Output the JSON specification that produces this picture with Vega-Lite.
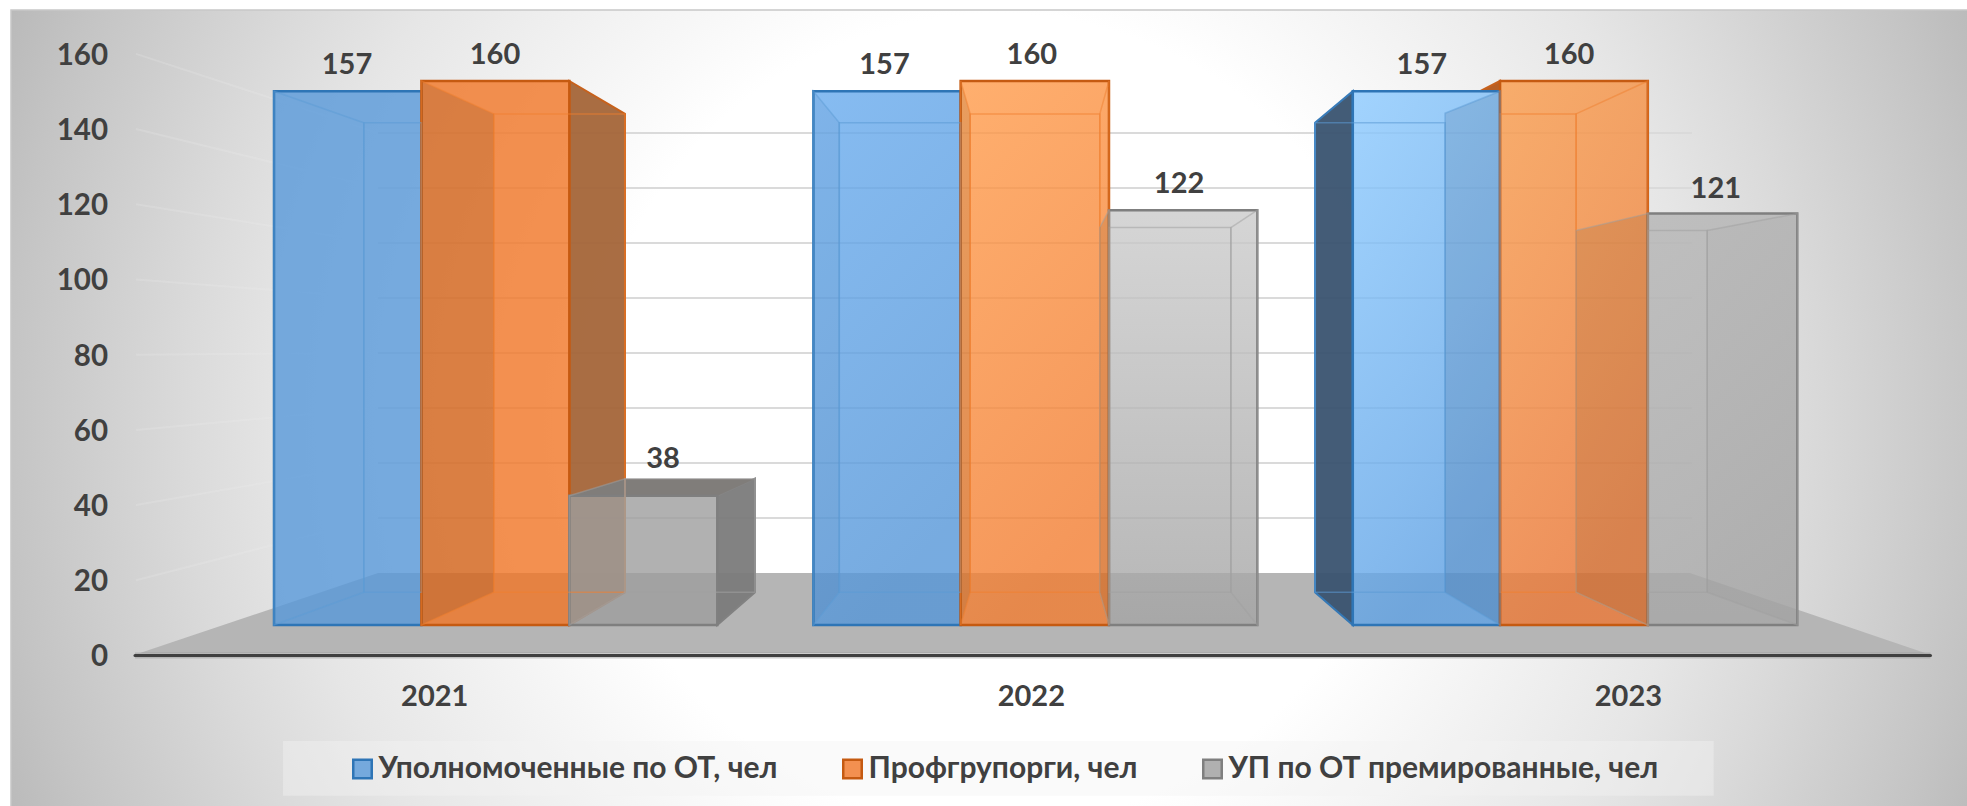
{"$schema":"https://vega.github.io/schema/vega-lite/v6.json","width":1967,"height":806,"padding":0,"autosize":{"type":"none"},"background":"white","config":{"view":{"stroke":null},"text":{"font":"Lato"}},
"datasets":{
"bars":[
{"year":"2021","bar":"2021a","series":"Уполномоченные по ОТ, чел","value":157,"x0":0,"x1":27.33,"bx0":16.65,"bx1":27.33,"labelX":13.53,"labelAt":157},
{"year":"2021","bar":"2021b","series":"Профгрупорги, чел","value":160,"x0":27.33,"x1":54.76,"bx0":40.75,"bx1":65.07,"labelX":40.97,"labelAt":160},
{"year":"2021","bar":"2021c","series":"УП по ОТ премированные, чел","value":38,"x0":54.76,"x1":82.18,"bx0":65.07,"bx1":89.17,"labelX":72.12,"labelAt":41.3},
{"year":"2022","bar":"2022a","series":"Уполномоченные по ОТ, чел","value":157,"x0":100,"x1":127.3,"bx0":104.8,"bx1":127.3,"labelX":113.18,"labelAt":157},
{"year":"2022","bar":"2022b","series":"Профгрупорги, чел","value":160,"x0":127.3,"x1":154.8,"bx0":129.07,"bx1":153.1,"labelX":140.5,"labelAt":160},
{"year":"2022","bar":"2022c","series":"УП по ОТ премированные, чел","value":122,"x0":154.8,"x1":182.3,"bx0":154.8,"bx1":177.4,"labelX":167.8,"labelAt":122},
{"year":"2023","bar":"2023a","series":"Уполномоченные по ОТ, чел","value":157,"x0":200,"x1":227.3,"bx0":193,"bx1":217.1,"labelX":212.8,"labelAt":157},
{"year":"2023","bar":"2023b","series":"Профгрупорги, чел","value":160,"x0":227.3,"x1":254.7,"bx0":227.3,"bx1":241.4,"labelX":240.1,"labelAt":160},
{"year":"2023","bar":"2023c","series":"УП по ОТ премированные, чел","value":121,"x0":254.7,"x1":282.4,"bx0":254.7,"bx1":265.7,"labelX":267.3,"labelAt":120.6}
],
"sides":[
{"face":"2021a left","part":"inner","series":"Уполномоченные по ОТ, чел","x":0,"top":157,"bot":0},{"face":"2021a left","part":"inner","series":"Уполномоченные по ОТ, чел","x":16.65,"top":147.69,"bot":9.62},
{"face":"2021b left","part":"inner","series":"Профгрупорги, чел","x":27.33,"top":160,"bot":0},{"face":"2021b left","part":"inner","series":"Профгрупорги, чел","x":40.75,"top":150.33,"bot":9.62},
{"face":"2021b right","part":"outer","series":"Профгрупорги, чел","x":54.76,"top":160,"bot":0},{"face":"2021b right","part":"outer","series":"Профгрупорги, чел","x":65.07,"top":150.33,"bot":9.62},
{"face":"2021c left","part":"inner","series":"УП по ОТ премированные, чел","x":54.76,"top":38,"bot":0},{"face":"2021c left","part":"inner","series":"УП по ОТ премированные, чел","x":65.07,"top":43.04,"bot":9.62},
{"face":"2021c right","part":"outer","series":"УП по ОТ премированные, чел","x":82.18,"top":38,"bot":0},{"face":"2021c right","part":"outer","series":"УП по ОТ премированные, чел","x":89.17,"top":43.04,"bot":9.62},
{"face":"2022a left","part":"inner","series":"Уполномоченные по ОТ, чел","x":100,"top":157,"bot":0},{"face":"2022a left","part":"inner","series":"Уполномоченные по ОТ, чел","x":104.8,"top":147.69,"bot":9.62},
{"face":"2022b left","part":"inner","series":"Профгрупорги, чел","x":127.3,"top":160,"bot":0},{"face":"2022b left","part":"inner","series":"Профгрупорги, чел","x":129.07,"top":150.33,"bot":9.62},
{"face":"2022b right","part":"inner","series":"Профгрупорги, чел","x":153.1,"top":150.33,"bot":9.62},{"face":"2022b right","part":"inner","series":"Профгрупорги, чел","x":154.8,"top":160,"bot":0},
{"face":"2022c left","part":"inner","series":"УП по ОТ премированные, чел","x":153.1,"top":116.91,"bot":9.62},{"face":"2022c left","part":"inner","series":"УП по ОТ премированные, чел","x":154.8,"top":122,"bot":0},
{"face":"2022c right","part":"inner","series":"УП по ОТ премированные, чел","x":177.4,"top":116.91,"bot":9.62},{"face":"2022c right","part":"inner","series":"УП по ОТ премированные, чел","x":182.3,"top":122,"bot":0},
{"face":"2023a left","part":"outer","series":"Уполномоченные по ОТ, чел","x":193,"top":147.69,"bot":9.62},{"face":"2023a left","part":"outer","series":"Уполномоченные по ОТ, чел","x":200,"top":157,"bot":0},
{"face":"2023a right","part":"inner","series":"Уполномоченные по ОТ, чел","x":217.1,"top":150.5,"bot":9.62},{"face":"2023a right","part":"inner","series":"Уполномоченные по ОТ, чел","x":227.3,"top":157,"bot":0},
{"face":"2023b left","part":"outer","series":"Профгрупорги, чел","x":223.6,"top":157,"bot":157},{"face":"2023b left","part":"outer","series":"Профгрупорги, чел","x":227.3,"top":160,"bot":157},
{"face":"2023b right","part":"inner","series":"Профгрупорги, чел","x":241.4,"top":150.33,"bot":9.62},{"face":"2023b right","part":"inner","series":"Профгрупорги, чел","x":254.7,"top":160,"bot":0},
{"face":"2023c left","part":"inner","series":"УП по ОТ премированные, чел","x":241.4,"top":116.03,"bot":9.62},{"face":"2023c left","part":"inner","series":"УП по ОТ премированные, чел","x":254.7,"top":121,"bot":0},
{"face":"2023c right","part":"inner","series":"УП по ОТ премированные, чел","x":265.7,"top":116.03,"bot":9.62},{"face":"2023c right","part":"inner","series":"УП по ОТ премированные, чел","x":282.4,"top":121,"bot":0}
],
"ticks":[{"tick":20},{"tick":40},{"tick":60},{"tick":80},{"tick":100},{"tick":120},{"tick":140},{"tick":160}],
"wall":[
{"tick":20,"x":-25.58,"v":20},{"tick":20,"x":19.28,"v":36.57},
{"tick":40,"x":-25.58,"v":40},{"tick":40,"x":19.28,"v":51.2},
{"tick":60,"x":-25.58,"v":60},{"tick":60,"x":19.28,"v":65.8},
{"tick":80,"x":-25.58,"v":80},{"tick":80,"x":19.28,"v":80.45},
{"tick":100,"x":-25.58,"v":100},{"tick":100,"x":19.28,"v":95.08},
{"tick":120,"x":-25.58,"v":120},{"tick":120,"x":19.28,"v":109.7},
{"tick":140,"x":-25.58,"v":140},{"tick":140,"x":19.28,"v":124.3},
{"tick":160,"x":-25.58,"v":160},{"tick":160,"x":19.28,"v":138.96}
],
"years":[{"year":"2021","pos":29.8},{"year":"2022","pos":140.4},{"year":"2023","pos":251.1}]
},
"resolve":{"scale":{"y":"independent","fill":"independent","stroke":"independent"}},
"layer":[
{"data":{"values":[{"part":"background"}]},
"mark":{"type":"rect","stroke":"#c8c8c8","strokeWidth":1.5,"fill":{"gradient":"radial","x1":0.495,"y1":0.5,"r1":0,"x2":0.495,"y2":0.5,"r2":0.6,"stops":[{"offset":0,"color":"#ffffff"},{"offset":0.34,"color":"#ffffff"},{"offset":0.59,"color":"#e6e6e6"},{"offset":0.68,"color":"#dadada"},{"offset":0.83,"color":"#c4c4c4"},{"offset":1,"color":"#a8a8a8"}]}},
"encoding":{"x":{"datum":-48.76,"type":"quantitative","scale":{"domain":[-50.797,313.87]},"axis":null},"x2":{"datum":320},"y":{"datum":180.88,"type":"quantitative","scale":{"domain":[-53.235,183.824]},"axis":null},"y2":{"datum":-60}}},
{"data":{"values":[{"part":"legend band"}]},
"mark":{"type":"rect","fill":"#f2f2f2","opacity":0.42},
"encoding":{"x":{"datum":1.67,"type":"quantitative","scale":{"domain":[-50.797,313.87]},"axis":null},"x2":{"datum":266.9},"y":{"datum":-34.12,"type":"quantitative","scale":{"domain":[-53.235,183.824]},"axis":null},"y2":{"datum":-50.2}}},
{"data":{"name":"ticks"},
"mark":{"type":"rule","stroke":"#dadada","strokeWidth":2},
"encoding":{"x":{"datum":19.28,"type":"quantitative","scale":{"domain":[-50.797,313.87]},"axis":null},"x2":{"datum":262.9},"y":{"field":"tick","type":"quantitative","scale":{"domain":[-84.73,208.36]},"axis":null}}},
{"data":{"name":"wall"},
"mark":{"type":"line","stroke":"#f0f0f0","strokeWidth":2,"opacity":0.2},
"encoding":{"x":{"field":"x","type":"quantitative","scale":{"domain":[-50.797,313.87]},"axis":null},"y":{"field":"v","type":"quantitative","scale":{"domain":[-40.03,174.33]},"axis":null},"detail":{"field":"tick"}}},
{"data":{"values":[{"y":0.66,"xa":-24.84,"xb":306.1},{"y":21.94,"xa":19.28,"xb":262.5}]},
"mark":{"type":"area","orient":"horizontal","fill":"#b5b5b5"},
"encoding":{"y":{"field":"y","type":"quantitative","scale":{"domain":[-40.03,174.33]},"axis":null},"x":{"field":"xa","type":"quantitative","scale":{"domain":[-50.797,313.87]},"axis":null},"x2":{"field":"xb"}}},
{"data":{"values":[{"v":0}]},
"mark":{"type":"rule","stroke":"#909090","strokeWidth":6,"opacity":0.45},
"encoding":{"x":{"datum":-25.77,"type":"quantitative","scale":{"domain":[-50.797,313.87]},"axis":null},"x2":{"datum":307.1},"y":{"field":"v","type":"quantitative","scale":{"domain":[-40.03,174.33]},"axis":null}}},
{"data":{"values":[{"v":0}]},
"mark":{"type":"rule","stroke":"#404040","strokeWidth":3,"strokeCap":"round"},
"encoding":{"x":{"datum":-25.77,"type":"quantitative","scale":{"domain":[-50.797,313.87]},"axis":null},"x2":{"datum":307.1},"y":{"field":"v","type":"quantitative","scale":{"domain":[-40.03,174.33]},"axis":{"values":[0,20,40,60,80,100,120,140,160],"title":null,"domain":false,"ticks":false,"grid":false,"zindex":1,"labelPadding":-107.6,"labelOffset":1.5,"labelAlign":"right","labelBaseline":"middle","labelFont":"Lato","labelFontSize":29.5,"labelFontWeight":"bold","labelColor":"#404040"}}}},
{"data":{"name":"sides"},"transform":[{"filter":"datum.part==='outer'"}],
"mark":{"type":"area","orient":"vertical","strokeWidth":2,"opacity":0.95},
"encoding":{"x":{"field":"x","type":"quantitative","scale":{"domain":[-50.797,313.87]},"axis":null},"y":{"field":"top","type":"quantitative","scale":{"domain":[-53.235,183.824]},"axis":null},"y2":{"field":"bot"},"detail":{"field":"face"},
"fill":{"field":"face","type":"nominal","legend":null,"scale":{"domain":["2021b right","2021c right","2023a left","2023b left"],"range":["#a56639","#7c7c7c","#3a5470","#b5581a"]}},
"stroke":{"field":"series","type":"nominal","legend":null,"scale":{"domain":["Уполномоченные по ОТ, чел","Профгрупорги, чел","УП по ОТ премированные, чел"],"range":["#2e75b6","#c55a11","#7f7f7f"]}}}},
{"data":{"values":[{"y":38,"xa":54.76,"xb":82.18},{"y":43.04,"xa":65.07,"xb":89.17}]},
"mark":{"type":"area","orient":"horizontal","fill":"#807d7a"},
"encoding":{"y":{"field":"y","type":"quantitative","scale":{"domain":[-53.235,183.824]},"axis":null},"x":{"field":"xa","type":"quantitative","scale":{"domain":[-50.797,313.87]},"axis":null},"x2":{"field":"xb"}}},
{"data":{"name":"bars"},"transform":[{"filter":"datum.year==='2021'"}],
"mark":{"type":"rect","fillOpacity":0.8,"strokeWidth":2.5},
"encoding":{"x":{"field":"x0","type":"quantitative","scale":{"domain":[-50.797,313.87]},"axis":null},"x2":{"field":"x1"},"y":{"field":"value","type":"quantitative","scale":{"domain":[-53.235,183.824]},"axis":null},"y2":{"datum":0},
"fill":{"field":"series","type":"nominal","scale":{"domain":["Уполномоченные по ОТ, чел","Профгрупорги, чел","УП по ОТ премированные, чел"],"range":["#5899da","#f17526","#9d9d9d"]},"legend":{"orient":"none","legendX":347.5,"legendY":754,"direction":"horizontal","columns":3,"title":null,"symbolType":"square","symbolSize":342,"symbolStrokeWidth":2.5,"columnPadding":60,"labelFont":"Lato","labelFontSize":30,"labelFontWeight":"bold","labelColor":"#404040","labelOffset":1,"labelLimit":700,"padding":0,"encode":{"symbols":{"update":{"fillOpacity":{"value":0.8}}}}}},
"stroke":{"field":"series","type":"nominal","scale":{"domain":["Уполномоченные по ОТ, чел","Профгрупорги, чел","УП по ОТ премированные, чел"],"range":["#2e75b6","#c55a11","#7f7f7f"]},"legend":{"orient":"none","legendX":347.5,"legendY":754,"direction":"horizontal","columns":3,"title":null,"symbolType":"square","symbolSize":342,"symbolStrokeWidth":2.5,"columnPadding":60,"labelFont":"Lato","labelFontSize":30,"labelFontWeight":"bold","labelColor":"#404040","labelOffset":1,"labelLimit":700,"padding":0,"encode":{"symbols":{"update":{"fillOpacity":{"value":0.8}}}}}}}},
{"data":{"name":"bars"},"transform":[{"filter":"datum.year!=='2021'"}],
"mark":{"type":"rect","fillOpacity":0.8,"strokeWidth":2.5},
"encoding":{"x":{"field":"x0","type":"quantitative","scale":{"domain":[-50.797,313.87]},"axis":null},"x2":{"field":"x1"},"y":{"field":"value","type":"quantitative","scale":{"domain":[-53.235,183.824]},"axis":null},"y2":{"datum":0},
"fill":{"field":"bar","type":"nominal","legend":null,"scale":{"domain":["2022a","2022b","2022c","2023a","2023b","2023c"],"range":[
{"expr":"{gradient:'linear',x1:0,y1:0,x2:0.3,y2:1,stops:[{offset:0,color:'#68abee'},{offset:1,color:'#5596d8'}]}"},
{"expr":"{gradient:'linear',x1:0,y1:0,x2:0.3,y2:1,stops:[{offset:0,color:'#ff9b4a'},{offset:1,color:'#f27d31'}]}"},
{"expr":"{gradient:'linear',x1:0,y1:0,x2:0,y2:1,stops:[{offset:0,color:'#cbcbcb'},{offset:1,color:'#a4a4a4'}]}"},
{"expr":"{gradient:'linear',x1:0,y1:0,x2:0.3,y2:1,stops:[{offset:0,color:'#8ccaff'},{offset:1,color:'#5fa2e5'}]}"},
{"expr":"{gradient:'linear',x1:0,y1:0,x2:0.3,y2:1,stops:[{offset:0,color:'#fa9c4b'},{offset:1,color:'#ec7836'}]}"},
{"expr":"{gradient:'linear',x1:0,y1:0,x2:0,y2:1,stops:[{offset:0,color:'#b4b4b4'},{offset:1,color:'#a7a7a7'}]}"}
]}},
"stroke":{"field":"series","type":"nominal","legend":null,"scale":{"domain":["Уполномоченные по ОТ, чел","Профгрупорги, чел","УП по ОТ премированные, чел"],"range":["#2e75b6","#c55a11","#7f7f7f"]}}}},
{"data":{"name":"bars"},
"mark":{"type":"rect","fillOpacity":0,"strokeWidth":1.5,"strokeOpacity":0.55},
"encoding":{"x":{"field":"bx0","type":"quantitative","scale":{"domain":[-50.797,313.87]},"axis":null},"x2":{"field":"bx1"},"y":{"field":"value","type":"quantitative","scale":{"domain":[-71.47,198.09]},"axis":null},"y2":{"datum":0},
"stroke":{"field":"series","type":"nominal","legend":null,"scale":{"domain":["Уполномоченные по ОТ, чел","Профгрупорги, чел","УП по ОТ премированные, чел"],"range":["#5b9bd5","#f08030","#a0a0a0"]}}}},
{"data":{"name":"sides"},"transform":[{"filter":"datum.part==='inner'"}],
"mark":{"type":"area","orient":"vertical","strokeWidth":1.5,"strokeOpacity":0.5},
"encoding":{"x":{"field":"x","type":"quantitative","scale":{"domain":[-50.797,313.87]},"axis":null},"y":{"field":"top","type":"quantitative","scale":{"domain":[-53.235,183.824]},"axis":null},"y2":{"field":"bot"},"detail":{"field":"face"},
"fill":{"field":"face","type":"nominal","legend":null,"scale":{"domain":["2021a left","2021b left","2021c left","2022a left","2022b left","2022b right","2022c left","2022c right","2023a right","2023b right","2023c left","2023c right"],"range":["rgba(0,0,0,0)","rgba(110,58,16,0.18)","rgba(0,0,0,0)","rgba(40,80,130,0.07)","rgba(110,58,16,0.15)","rgba(0,0,0,0)","rgba(110,58,16,0.15)","rgba(0,0,0,0)","rgba(30,60,100,0.15)","rgba(0,0,0,0)","rgba(110,58,16,0.15)","rgba(0,0,0,0.02)"]}},
"stroke":{"field":"series","type":"nominal","legend":null,"scale":{"domain":["Уполномоченные по ОТ, чел","Профгрупорги, чел","УП по ОТ премированные, чел"],"range":["#5b9bd5","#f08030","#a0a0a0"]}}}},
{"data":{"name":"bars"},
"mark":{"type":"text","font":"Lato","fontSize":29,"fontWeight":"bold","fill":"#404040","dy":-26,"baseline":"middle","align":"center"},
"encoding":{"x":{"field":"labelX","type":"quantitative","scale":{"domain":[-50.797,313.87]},"axis":null},"y":{"field":"labelAt","type":"quantitative","scale":{"domain":[-53.235,183.824]},"axis":null},"text":{"field":"value","type":"quantitative"}}},
{"data":{"name":"years"},
"mark":{"type":"text","font":"Lato","fontSize":29,"fontWeight":"bold","fill":"#404040","baseline":"middle","align":"center"},
"encoding":{"x":{"field":"pos","type":"quantitative","scale":{"domain":[-50.797,313.87]},"axis":null},"y":{"datum":-11,"type":"quantitative","scale":{"domain":[-40.03,174.33]},"axis":null},"text":{"field":"year","type":"nominal"}}}
]}
